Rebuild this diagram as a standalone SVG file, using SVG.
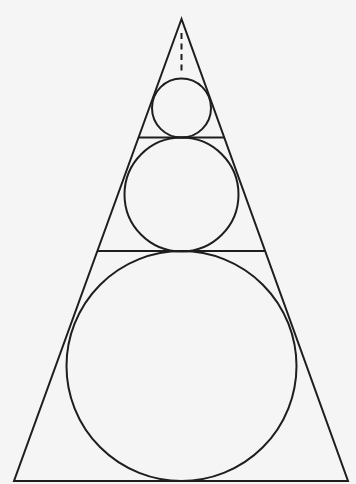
<svg xmlns="http://www.w3.org/2000/svg" width="356" height="484" viewBox="0 0 356 484">
<style>
.s{fill:none;stroke:#1e1e1e;stroke-width:2;stroke-linejoin:miter}
.d{fill:none;stroke:#1e1e1e;stroke-width:2;stroke-dasharray:6 4.5}
</style>
<rect width="356" height="484" fill="#f5f5f5"/>
<g id="triangle"><polygon class="s" points="181.5,19 14,481 348,481"/></g>
<g id="lines">
<line class="s" x1="98" y1="251" x2="265" y2="251"/>
<line class="s" x1="138.5" y1="137.5" x2="224.5" y2="137.5"/>
<line class="d" x1="181.5" y1="33" x2="181.5" y2="71"/>
</g>
<g id="circle-large"><circle class="s" cx="181.5" cy="366" r="115"/></g>
<g id="circle-middle"><circle class="s" cx="181.5" cy="194.5" r="57"/></g>
<g id="circle-small"><circle class="s" cx="181.5" cy="108" r="29.5"/></g>
</svg>
